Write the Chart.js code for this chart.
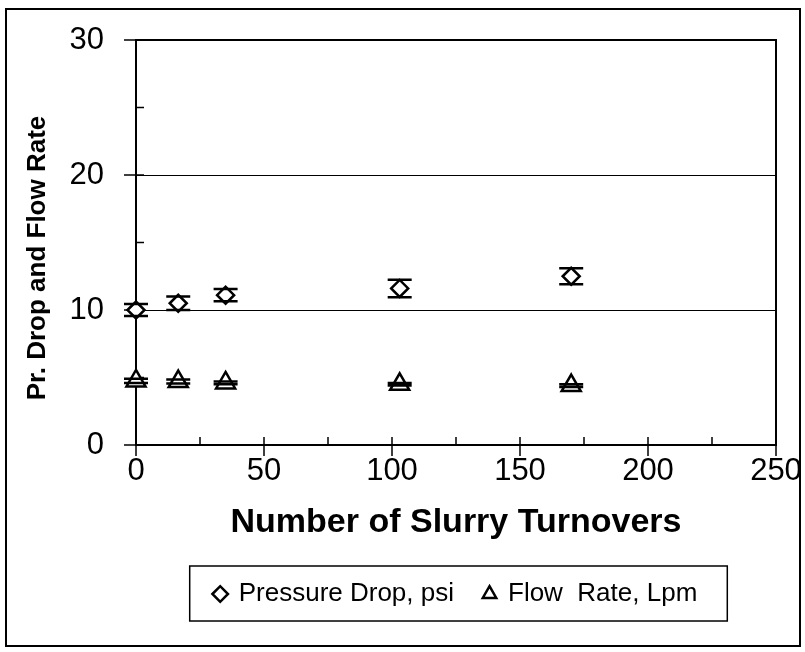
<!DOCTYPE html>
<html>
<head>
<meta charset="utf-8">
<title>Pressure drop and flow rate vs slurry turnovers</title>
<script src="https://cdn.jsdelivr.net/npm/chart.js@4.4.1/dist/chart.umd.min.js"></script>
<style>
  html, body { margin: 0; padding: 0; background: #fff; }
  #wrap { width: 805px; height: 652px; }
</style>
</head>
<body>
<div id="wrap"><canvas id="chart" width="805" height="652"></canvas></div>
<script>
// Values
const turnovers = [0, 16.5, 35, 103, 170];
const pressureDrop = [10.0, 10.5, 11.1, 11.6, 12.5];
const pressureErr = [0.45, 0.5, 0.45, 0.65, 0.6];
const flowRate = [4.75, 4.7, 4.6, 4.5, 4.4];
const flowErr = [0.15, 0.15, 0.1, 0.1, 0.1];

// Axis ticks
const xMajorTicks = [0, 50, 100, 150, 200, 250];
const xMinorTicks = [25, 75, 125, 175, 225];
const yMajorTicks = [0, 10, 20, 30];
const yMinorTicks = [5, 15, 25];
const yGridValues = [10, 20];

const seriesLabels = ['Pressure Drop, psi', 'Flow  Rate, Lpm'];
const yAxisTitle = 'Pr. Drop and Flow Rate';
const xAxisTitle = 'Number of Slurry Turnovers';
const errors = [pressureErr, flowErr];

function toPoints(ys) {
    return turnovers.map((x, i) => ({ x: x, y: ys[i] }));
}

// white background, outer border, y title and legend box
const outerFrame = {
    id: 'outerFrame',
    beforeDraw(chart) {
        const ctx = chart.ctx;
        ctx.save();
        ctx.fillStyle = '#fff';
        ctx.fillRect(0, 0, chart.width, chart.height);
        ctx.restore();
    },
    afterDraw(chart) {
        const ctx = chart.ctx;
        ctx.save();
        ctx.strokeStyle = '#000';
        ctx.lineWidth = 2;
        ctx.strokeRect(6, 9, 794, 637);

        // rotated y axis title, sits a little below the plot centre
        ctx.fillStyle = '#000';
        ctx.font = "bold 26px 'Liberation Sans', Arial, sans-serif";
        ctx.textAlign = 'center';
        ctx.textBaseline = 'middle';
        ctx.translate(38, 258);
        ctx.rotate(-Math.PI / 2);
        ctx.fillText(yAxisTitle, 0, 0);
        ctx.setTransform(1, 0, 0, 1, 0, 0);

        // box around the legend
        const boxes = chart.legend.legendHitBoxes;
        if (boxes && boxes.length) {
            const left = Math.min(...boxes.map(b => b.left)) - 25;
            const right = Math.max(...boxes.map(b => b.left + b.width)) + 30;
            const top = Math.min(...boxes.map(b => b.top)) - 15;
            const bottom = Math.max(...boxes.map(b => b.top + b.height)) + 14;
            ctx.lineWidth = 1.5;
            ctx.strokeRect(left, top, right - left, bottom - top);
        }
        ctx.restore();
    }
};

// plot frame, tick marks and error bar stems (under the markers)
const plotFrame = {
    id: 'plotFrame',
    beforeDatasetsDraw(chart) {
        const ctx = chart.ctx;
        const area = chart.chartArea;
        const xs = chart.scales.x;
        const ys = chart.scales.y;
        ctx.save();
        ctx.strokeStyle = '#000';
        ctx.lineWidth = 2;
        ctx.strokeRect(area.left, area.top, area.right - area.left, area.bottom - area.top);

        ctx.lineWidth = 1.5;
        ctx.beginPath();
        xMajorTicks.forEach(v => {
            const px = xs.getPixelForValue(v);
            ctx.moveTo(px, area.bottom - 8);
            ctx.lineTo(px, area.bottom + 11);
        });
        xMinorTicks.forEach(v => {
            const px = xs.getPixelForValue(v);
            ctx.moveTo(px, area.bottom - 8);
            ctx.lineTo(px, area.bottom);
        });
        yMajorTicks.forEach(v => {
            const py = ys.getPixelForValue(v);
            ctx.moveTo(area.left - 12, py);
            ctx.lineTo(area.left + 8, py);
        });
        yMinorTicks.forEach(v => {
            const py = ys.getPixelForValue(v);
            ctx.moveTo(area.left, py);
            ctx.lineTo(area.left + 8, py);
        });
        ctx.stroke();

        // error bar stems
        ctx.lineWidth = 2;
        ctx.beginPath();
        chart.data.datasets.forEach((ds, d) => {
            ds.data.forEach((p, i) => {
                const px = xs.getPixelForValue(p.x);
                ctx.moveTo(px, ys.getPixelForValue(p.y - errors[d][i]));
                ctx.lineTo(px, ys.getPixelForValue(p.y + errors[d][i]));
            });
        });
        ctx.stroke();
        ctx.restore();
    },
    afterDatasetsDraw(chart) {
        // error bar caps (over the markers)
        const ctx = chart.ctx;
        const xs = chart.scales.x;
        const ys = chart.scales.y;
        ctx.save();
        ctx.strokeStyle = '#000';
        ctx.lineWidth = 2.5;
        ctx.beginPath();
        chart.data.datasets.forEach((ds, d) => {
            ds.data.forEach((p, i) => {
                const px = xs.getPixelForValue(p.x);
                [p.y - errors[d][i], p.y + errors[d][i]].forEach(v => {
                    const py = ys.getPixelForValue(v);
                    ctx.moveTo(px - 12, py);
                    ctx.lineTo(px + 12, py);
                });
            });
        });
        ctx.stroke();
        ctx.restore();
    }
};

const ctx = document.getElementById('chart').getContext('2d');
const chart = new Chart(ctx, {
    type: 'scatter',
    data: {
        datasets: [{
            label: seriesLabels[0],
            data: toPoints(pressureDrop),
            pointStyle: 'rectRot',
            pointRadius: 8.5,
            backgroundColor: '#fff',
            borderColor: '#000',
            borderWidth: 2.5,
            showLine: false,
            clip: false
        }, {
            label: seriesLabels[1],
            data: toPoints(flowRate),
            pointStyle: 'triangle',
            pointRadius: 11,
            backgroundColor: '#fff',
            borderColor: '#000',
            borderWidth: 2.5,
            showLine: false,
            clip: false
        }]
    },
    options: {
        responsive: false,
        animation: false,
        devicePixelRatio: 1,
        events: [],
        layout: {
            autoPadding: false,
            padding: { top: 40, right: 29, left: 0, bottom: 35 }
        },
        scales: {
            x: {
                type: 'linear',
                min: 0,
                max: 250,
                afterBuildTicks: scale => { scale.ticks = xMajorTicks.map(v => ({ value: v })); },
                afterFit: scale => {
                    scale.height = 106;
                    scale.paddingLeft = 0;
                    scale.paddingRight = 0;
                },
                grid: { display: false, drawTicks: false },
                border: { display: false },
                ticks: {
                    color: '#000',
                    padding: 8,
                    maxRotation: 0,
                    font: { family: "'Liberation Sans', Arial, sans-serif", size: 31 }
                },
                title: {
                    display: true,
                    text: xAxisTitle,
                    color: '#000',
                    padding: { top: 0, bottom: 8 },
                    font: { family: "'Liberation Sans', Arial, sans-serif", size: 34, weight: 'bold' }
                }
            },
            y: {
                type: 'linear',
                min: 0,
                max: 30,
                afterBuildTicks: scale => { scale.ticks = yMajorTicks.map(v => ({ value: v })); },
                afterFit: scale => {
                    scale.width = 136;
                    scale.paddingTop = 0;
                    scale.paddingBottom = 0;
                },
                grid: {
                    drawTicks: false,
                    lineWidth: 1,
                    color: c => yGridValues.includes(c.tick && c.tick.value) ? '#000' : 'rgba(0,0,0,0)'
                },
                border: { display: false },
                ticks: {
                    color: '#000',
                    padding: 32,
                    font: { family: "'Liberation Sans', Arial, sans-serif", size: 31 }
                },
                title: { display: false }
            }
        },
        plugins: {
            legend: {
                position: 'bottom',
                fullSize: false,
                labels: {
                    usePointStyle: true,
                    boxWidth: 11,
                    boxHeight: 11,
                    padding: 30,
                    color: '#000',
                    font: { family: "'Liberation Sans', Arial, sans-serif", size: 26 }
                }
            },
            tooltip: { enabled: false }
        }
    },
    plugins: [outerFrame, plotFrame]
});
</script>
</body>
</html>
